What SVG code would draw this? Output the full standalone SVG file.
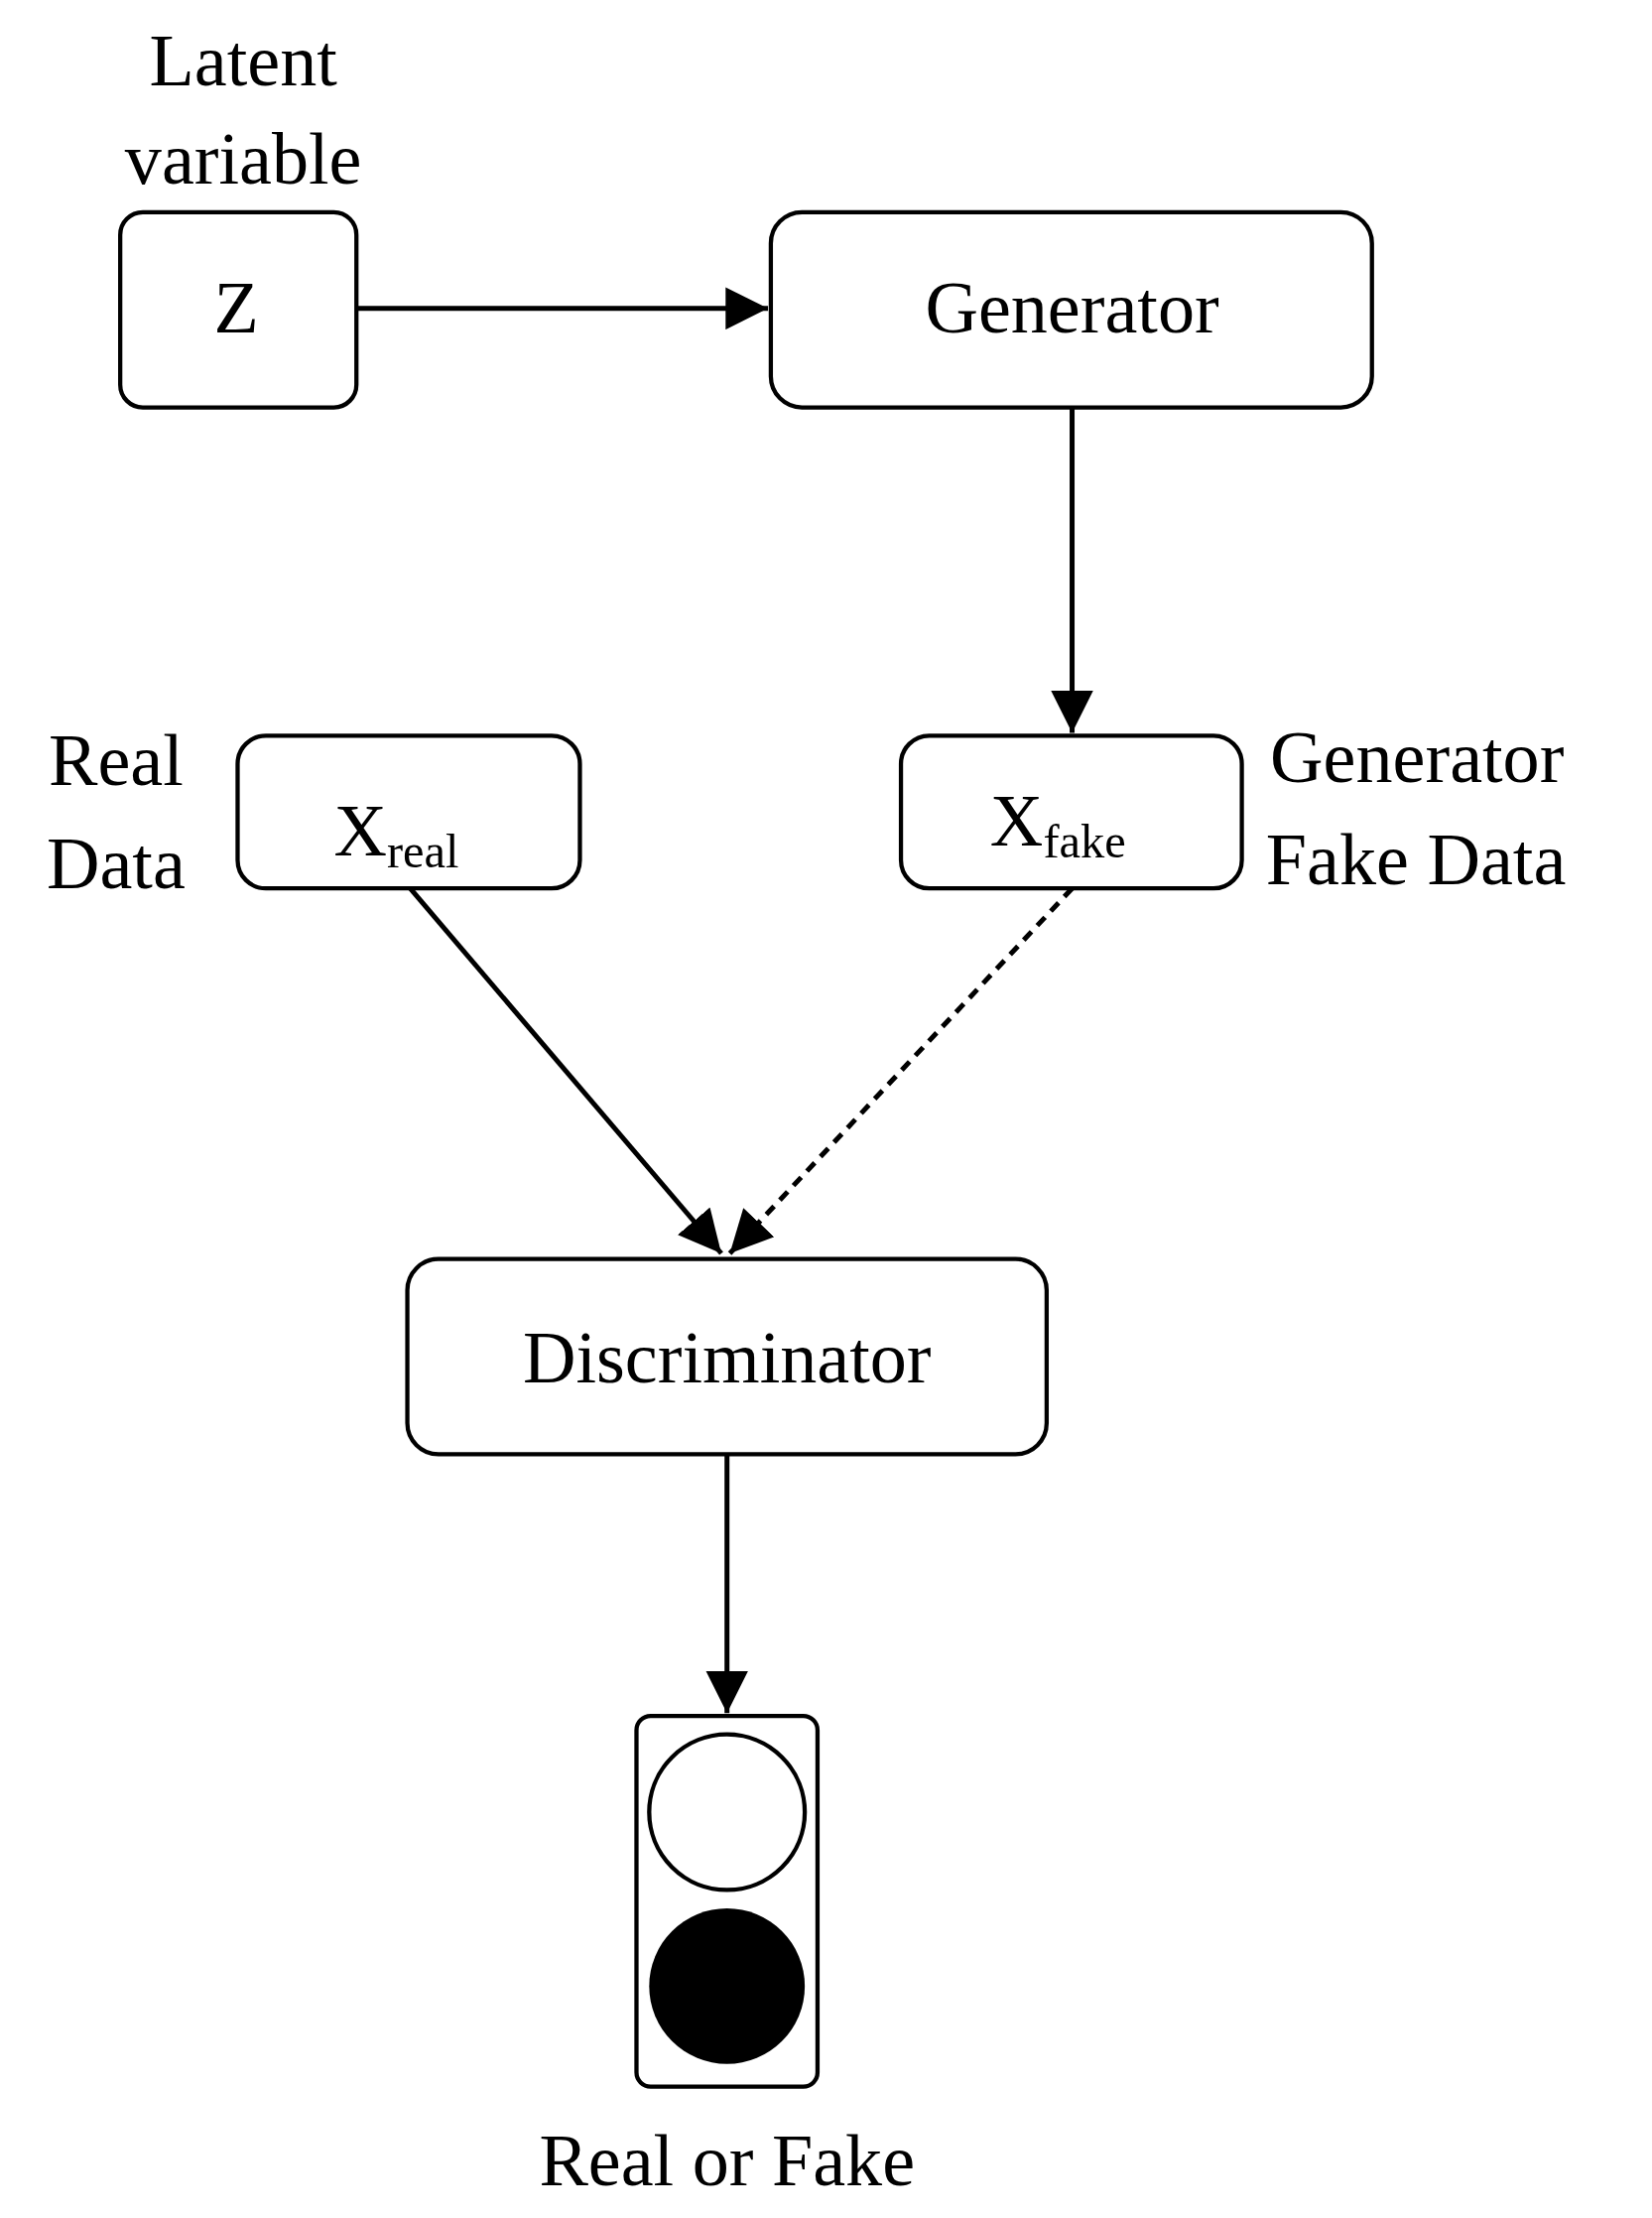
<svg xmlns="http://www.w3.org/2000/svg" width="1665" height="2235" viewBox="0 0 1665 2235">
<style>
.box{fill:#fff;stroke:#000;stroke-width:3}
.t{font-family:"Liberation Serif",serif;font-size:52px;fill:#000}
.s{font-family:"Liberation Serif",serif;font-size:34px;fill:#000}
.c{stroke:#000;stroke-width:3.5;fill:none}
</style>
<defs>
<marker id="ah" markerWidth="10" markerHeight="10" refX="9" refY="5" orient="auto" markerUnits="userSpaceOnUse" viewBox="0 0 10 10">
<path d="M0,0 L10,5 L0,10 z" fill="#000"/>
</marker>
<marker id="a" viewBox="0 0 10 10" refX="10" refY="5" markerWidth="30" markerHeight="30" markerUnits="userSpaceOnUse" orient="auto"><path d="M0,0 L10,5 L0,10 z" fill="#000"/></marker>
</defs>
<rect width="1665" height="2235" fill="#fff"/>
<g transform="scale(1.42551)">
<g id="connectors">
<line class="c" x1="252" y1="218" x2="543" y2="218" marker-end="url(#a)"/>
<line class="c" x1="758" y1="288" x2="758" y2="518" marker-end="url(#a)"/>
<line class="c" x1="290" y1="628" x2="510" y2="886" marker-end="url(#a)"/>
<line class="c" x1="758" y1="628" x2="516" y2="886" stroke-dasharray="8,6" marker-end="url(#a)"/>
<line class="c" x1="514" y1="1028" x2="514" y2="1211" marker-end="url(#a)"/>
</g>
<g id="latent"><text class="t" x="172" y="60" text-anchor="middle">Latent</text><text class="t" x="172" y="130" text-anchor="middle">variable</text></g>
<g id="z"><rect class="box" x="85" y="150" width="167" height="138" rx="16"/><text class="t" x="167" y="235" text-anchor="middle">Z</text></g>
<g id="generator"><rect class="box" x="545" y="150" width="425" height="138" rx="22"/><text class="t" x="758" y="235" text-anchor="middle">Generator</text></g>
<g id="realLabel"><text class="t" x="82" y="555" text-anchor="middle">Real</text><text class="t" x="82" y="628" text-anchor="middle">Data</text></g>
<g id="xreal"><rect class="box" x="168" y="520" width="242" height="108" rx="20"/><text class="t" x="236" y="605">X<tspan class="s" dy="8">real</tspan></text></g>
<g id="xfake"><rect class="box" x="637" y="520" width="241" height="108" rx="20"/><text class="t" x="700" y="598">X<tspan class="s" dy="8">fake</tspan></text></g>
<g id="fakeLabel"><text class="t" x="898" y="553">Generator</text><text class="t" x="895" y="625">Fake Data</text></g>
<g id="discriminator"><rect class="box" x="288" y="890" width="452" height="138" rx="22"/><text class="t" x="514" y="977" text-anchor="middle">Discriminator</text></g>
<g id="output"><rect class="box" x="450" y="1213" width="128" height="262" rx="10"/><circle cx="514" cy="1281" r="55" fill="#fff" stroke="#000" stroke-width="3"/><circle cx="514" cy="1404" r="55" fill="#000"/><text class="t" x="514" y="1545" text-anchor="middle">Real or Fake</text></g>
</g>
</svg>
